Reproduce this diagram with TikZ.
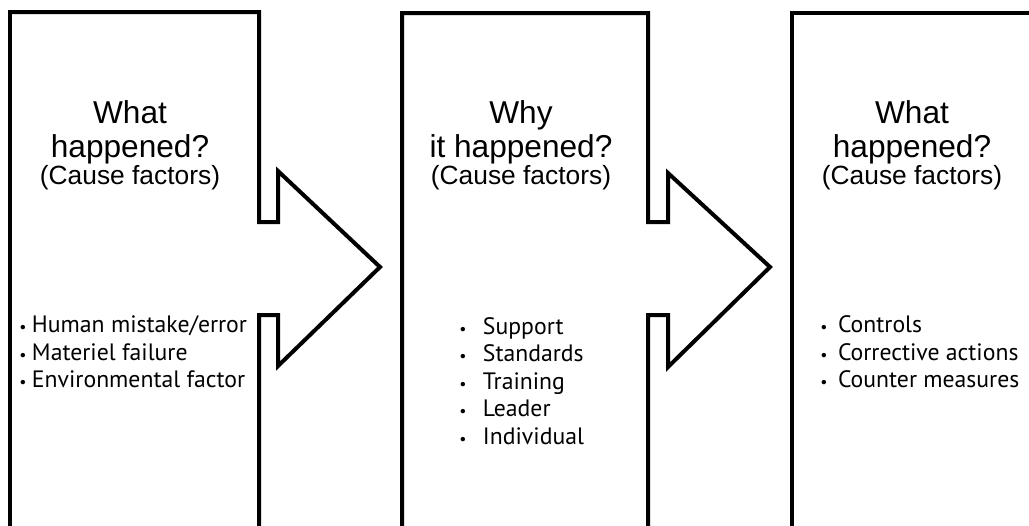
\documentclass[tikz,border=0pt]{standalone}
\usepackage{fontspec}
\setmainfont{Liberation Sans}
\newfontfamily\listfont{PT Sans}
\usetikzlibrary{positioning}

\newcommand{\bul}[1]{{\small\textbullet}\hspace{#1}}

\begin{document}
\begin{tikzpicture} [
	x=0.02cm, y=-0.02cm,
	frame/.style={
		draw=black, line width=0.08cm,
		line join=miter, miter limit=10},
	head/.style={
		inner sep=0pt, anchor=base,
		font=\fontsize{18pt}{20pt}\selectfont},
	sub/.style={
		inner sep=0pt, anchor=base,
		font=\fontsize{15pt}{18pt}\selectfont},
	list/.style={
		inner sep=0pt, anchor=west, align=left,
		font=\listfont\fontsize{13.5pt}{15.7pt}\selectfont}]
\useasboundingbox (0,0) rectangle (1029,525);
\clip (0,0) rectangle (1029,525);
% the three boxes, with the arrows
\draw[frame] (10,600) -- (10,12) -- (259,12) -- (259,222) -- (278,222) -- (278,171)
	-- (380,267) -- (278,366) -- (278,315) -- (259,315) -- (259,600);
\draw[frame] (402,600) -- (402,13) -- (648,13) -- (648,222) -- (668,222) -- (668,173)
	-- (770,267) -- (668,367) -- (668,315) -- (648,315) -- (648,600);
\draw[frame] (792,600) -- (792,13) -- (1100,13);
% titles
\node [head]	(what1) at (130,123)	{What};
\node [head]	(happened1) at (130,157)	{happened?};
\node [sub]	(cause1) at (130,184)	{(Cause factors)};
\node [head]	(why2) at (521,123)	{Why};
\node [head]	(happened2) at (521,157)	{it happened?};
\node [sub]	(cause2) at (521,184)	{(Cause factors)};
\node [head]	(what3) at (912,123)	{What};
\node [head]	(happened3) at (912,157)	{happened?};
\node [sub]	(cause3) at (912,184)	{(Cause factors)};
% lists
\node [list]	(list1) at (19,352)	{\bul{1.1mm}Human mistake/error\\
	\bul{1.1mm}Materiel failure\\
	\bul{1.1mm}Environmental factor};
\node [list]	(list2) at (459,381)	{\bul{3.3mm}Support\\
	\bul{3.3mm}Standards\\
	\bul{3.3mm}Training\\
	\bul{3.3mm}Leader\\
	\bul{3.3mm}Individual};
\node [list]	(list3) at (820,352)	{\bul{2.1mm}Controls\\
	\bul{2.1mm}Corrective actions\\
	\bul{2.1mm}Counter measures};
\end{tikzpicture}
\end{document}
